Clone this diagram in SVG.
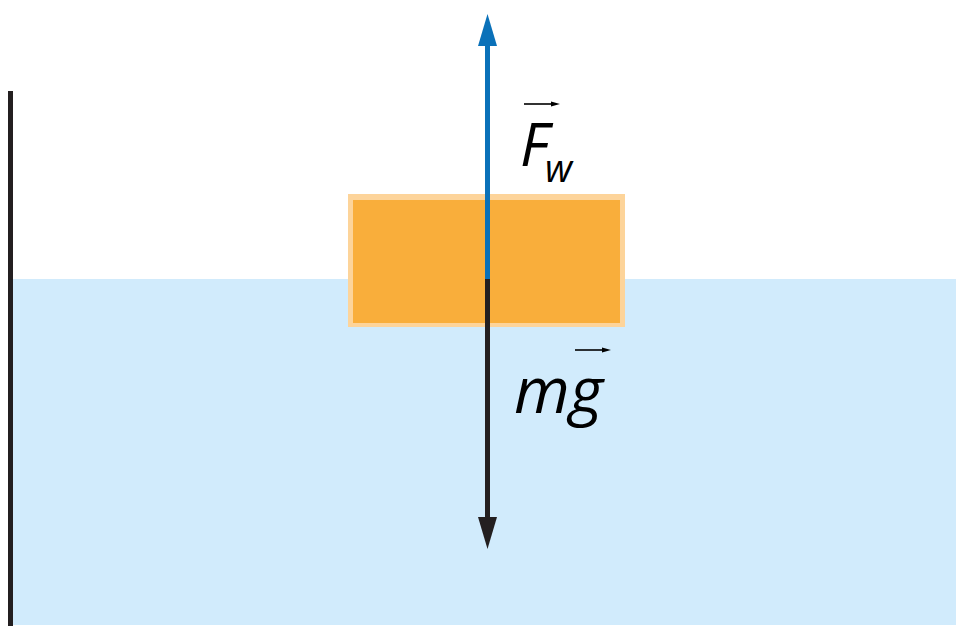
<svg xmlns="http://www.w3.org/2000/svg" width="956" height="626" viewBox="0 0 956 626">
<style>
.lbl{font-family:"Open Sans","Liberation Sans",sans-serif;font-style:italic;fill:#000}
.vec{stroke:#000;stroke-width:1.6}
</style>
<rect width="956" height="626" fill="#fff"/>
<g id="water"><rect x="13" y="279" width="943" height="346" fill="#d1ebfc"/></g>
<g id="wall"><rect x="8" y="91" width="5" height="535" fill="#231f20"/></g>
<g id="block">
<rect x="348" y="194" width="277" height="133" fill="#fdd49a"/>
<rect x="353" y="200" width="267" height="123" fill="#f9ae3b"/>
</g>
<g id="connectors">
<line x1="487.5" y1="44" x2="487.5" y2="279" stroke="#0a71b9" stroke-width="5"/>
<polygon points="487.5,14 478,46 497,46" fill="#0a71b9"/>
<line x1="487.5" y1="279" x2="487.5" y2="519" stroke="#231f20" stroke-width="5"/>
<polygon points="487.5,549 478,517 497,517" fill="#231f20"/>
</g>
<g id="label-Fw">
<line class="vec" x1="524" y1="104" x2="552" y2="104"/>
<polygon points="560,104 551,101.5 551,106.5" fill="#000"/>
<text class="lbl" x="520" y="166" font-size="60">F<tspan x="545" dy="16" font-size="38">w</tspan></text>
</g>
<g id="label-mg">
<line class="vec" x1="575" y1="350" x2="603" y2="350"/>
<polygon points="611,350 602,347.5 602,352.5" fill="#000"/>
<text class="lbl" x="514" y="413" font-size="64">mg</text>
</g>
</svg>
